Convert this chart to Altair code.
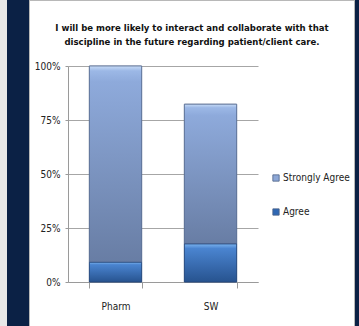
import altair as alt
import pandas as pd

# Survey responses by discipline (share of respondents)
disciplines = ["Pharm", "SW"]
agree = [0.091, 0.176]
strongly_agree = [0.909, 0.647]
responses = ["Strongly Agree", "Agree"]
y_ticks = [0, 0.25, 0.5, 0.75, 1.0]
title_lines = [
    "I will be more likely to interact and collaborate with that",
    "discipline in the future regarding patient/client care.",
]

rows = []
for d, a, s in zip(disciplines, agree, strongly_agree):
    rows.append({"discipline": d, "response": "Agree", "share": a, "order": 0})
    rows.append({"discipline": d, "response": "Strongly Agree", "share": s, "order": 1})
df = pd.DataFrame(rows)

FONT = "DejaVu Sans Condensed"
NAVY = "#0b2145"
TEXT = "#222222"
W, H = 190, 216
PAD = {"left": 68, "top": 66, "right": 101, "bottom": 44}

x_enc = alt.X(
    "discipline:N",
    sort=disciplines,
    scale=alt.Scale(paddingInner=0.45, paddingOuter=0.225),
    axis=alt.Axis(
        title=None, labelAngle=0, tickBand="extent", tickSize=6,
        tickColor="#9a9a9a", domainColor="#9a9a9a", labelPadding=13,
        labelFont=FONT, labelFontSize=10, labelColor=TEXT, grid=False,
    ),
)
y_enc = alt.Y(
    "y0:Q",
    scale=alt.Scale(domain=[0, 1]),
    axis=alt.Axis(
        title=None, values=y_ticks, format=".0%", grid=True,
        gridColor="#a6a6a6", domainColor="#9a9a9a", tickColor="#9a9a9a",
        tickSize=3, labelPadding=5, labelFont=FONT, labelFontSize=10,
        labelColor=TEXT,
    ),
)

base = alt.Chart(df).transform_stack(
    stack="share", groupby=["discipline"], as_=["y0", "y1"],
    sort=[alt.SortField("order")],
)

# flat bars carry the legend; gradient bars are drawn over them
legend_bars = base.mark_bar(stroke="#5b6f93", strokeWidth=0.8).encode(
    x=x_enc,
    y=y_enc,
    y2="y1:Q",
    color=alt.Color(
        "response:N",
        scale=alt.Scale(domain=responses, range=["#8da7d6", "#2f67b3"]),
        legend=alt.Legend(
            title=None, orient="none", legendX=203, legendY=107,
            symbolType="square", symbolSize=40, symbolStrokeColor="#4a5f85",
            symbolStrokeWidth=0.8, labelFont=FONT, labelFontSize=10,
            labelColor=TEXT, rowPadding=24, labelOffset=2,
        ),
    ),
)

strong_grad = alt.Gradient(
    gradient="linear", x1=0, x2=0, y1=0, y2=1,
    stops=[
        alt.GradientStop(offset=0, color="#c7dbf6"),
        alt.GradientStop(offset=0.025, color="#9cb8e6"),
        alt.GradientStop(offset=0.08, color="#8eaadb"),
        alt.GradientStop(offset=1, color="#687da4"),
    ],
)
agree_grad = alt.Gradient(
    gradient="linear", x1=0, x2=0, y1=0, y2=1,
    stops=[
        alt.GradientStop(offset=0, color="#7ab2ee"),
        alt.GradientStop(offset=0.12, color="#4a84d0"),
        alt.GradientStop(offset=1, color="#27538f"),
    ],
)

strong_bars = base.transform_filter(alt.datum.response == "Strongly Agree").mark_bar(
    fill=strong_grad, stroke="#5b6f93", strokeWidth=0.8
).encode(x=x_enc, y=y_enc, y2="y1:Q")
agree_bars = base.transform_filter(alt.datum.response == "Agree").mark_bar(
    fill=agree_grad, stroke="#24467a", strokeWidth=0.8
).encode(x=x_enc, y=y_enc, y2="y1:Q")

# slide frame around the chart panel
one = alt.Data(values=[{"k": 1}])
top, bottom = -PAD["top"], H + PAD["bottom"]
frame_gray = alt.Chart(one).mark_rect(color="#e8e8e8").encode(
    x=alt.value(-PAD["left"]), x2=alt.value(-61), y=alt.value(top), y2=alt.value(bottom),
)
frame_left = alt.Chart(one).mark_rect(color=NAVY).encode(
    x=alt.value(-61), x2=alt.value(-39), y=alt.value(top), y2=alt.value(bottom),
)
frame_right = alt.Chart(one).mark_rect(color=NAVY).encode(
    x=alt.value(W + 97), x2=alt.value(W + PAD["right"]), y=alt.value(top), y2=alt.value(bottom),
)
edge_left = alt.Chart(one).mark_rule(color="#b8b8b8").encode(
    x=alt.value(-38.5), y=alt.value(top), y2=alt.value(bottom),
)
edge_right = alt.Chart(one).mark_rule(color="#b8b8b8").encode(
    x=alt.value(W + 96.5), y=alt.value(top), y2=alt.value(bottom),
)
edge_top = alt.Chart(one).mark_rule(color="#b8b8b8").encode(
    x=alt.value(-38), x2=alt.value(W + 96), y=alt.value(top + 0.5),
)

chart = alt.layer(
    legend_bars, strong_bars, agree_bars,
    frame_gray, frame_left, frame_right, edge_left, edge_right, edge_top,
).properties(
    width=W,
    height=H,
    padding=PAD,
    autosize=alt.AutoSizeParams(type="none"),
    background="white",
    title=alt.Title(
        title_lines, font=FONT, fontSize=9.5, fontWeight="bold",
        color="#111111", anchor="middle", dx=29, dy=47, lineHeight=14, offset=0,
    ),
).configure_view(stroke=None)

chart.save("out.html", embed_options={"renderer": "svg", "actions": False})
